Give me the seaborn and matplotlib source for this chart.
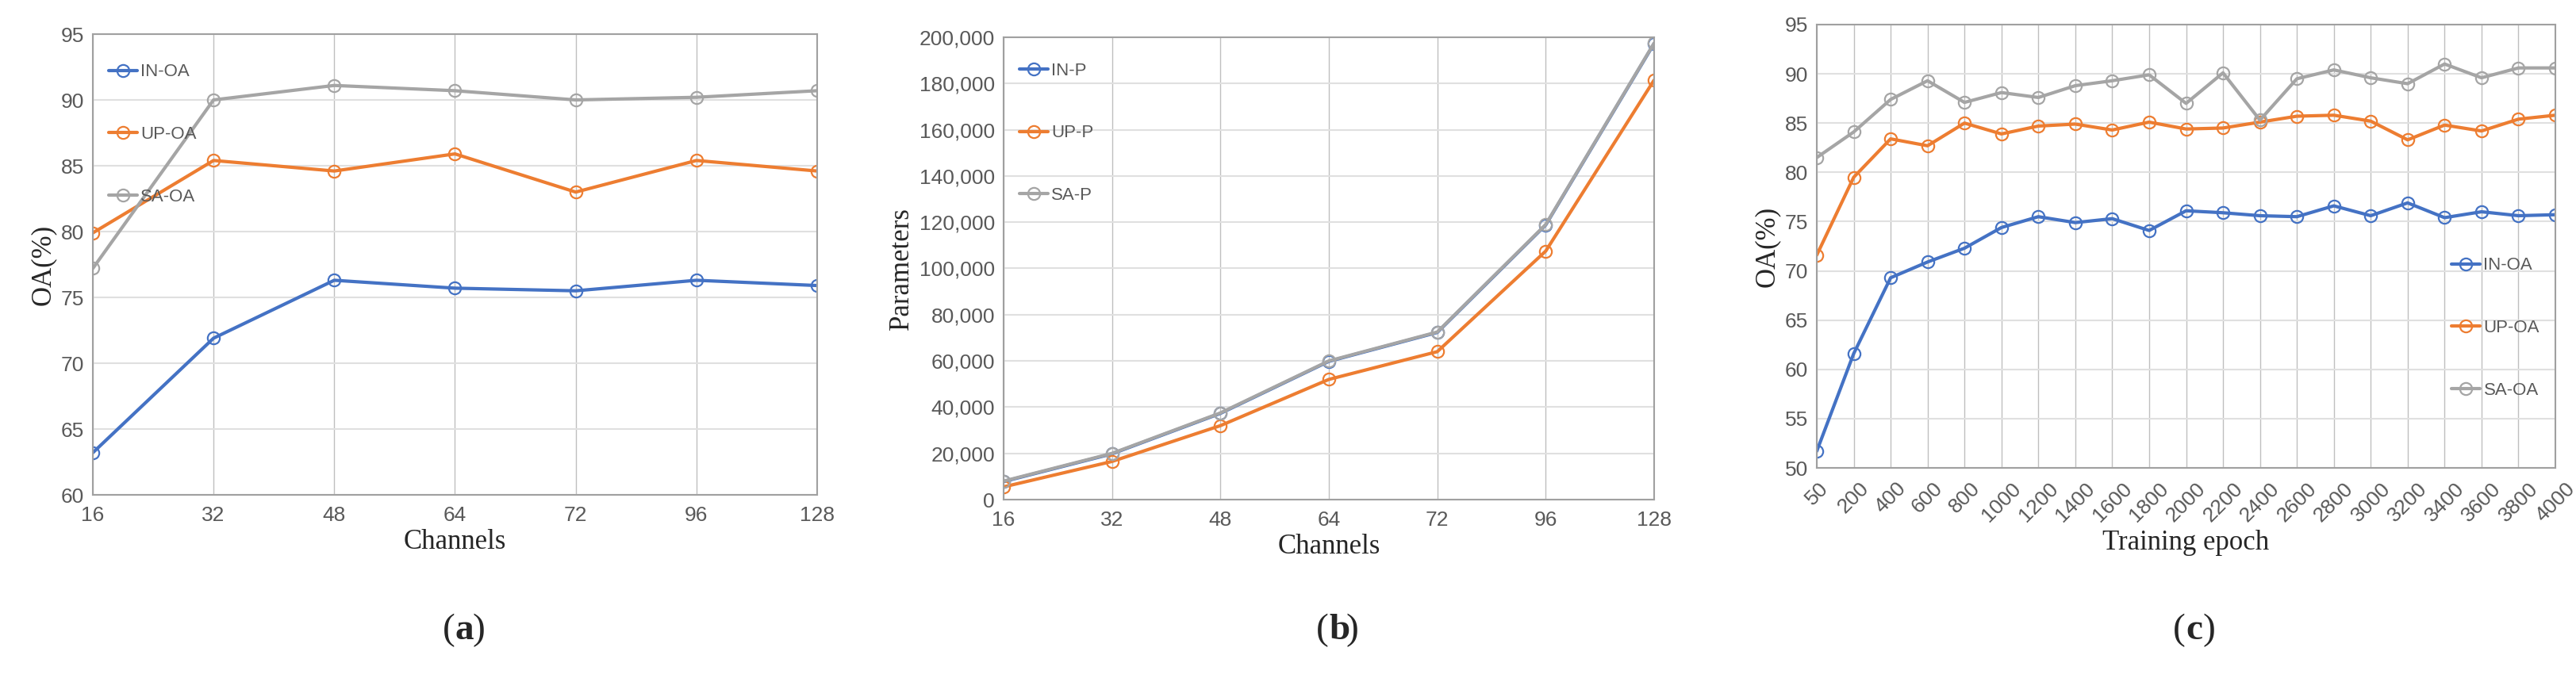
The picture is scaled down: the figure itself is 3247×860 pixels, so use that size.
import pandas as pd
import matplotlib
matplotlib.use('Agg')
import matplotlib.pyplot as plt
import seaborn as sns

sns.set_style("whitegrid")
plt.rcParams['font.family'] = ['Liberation Sans', 'DejaVu Sans']

# dados
channels = ['16', '32', '48', '64', '72', '96', '128']
in_oa = [63.2, 71.9, 76.3, 75.7, 75.5, 76.3, 75.9]
up_oa = [79.9, 85.4, 84.6, 85.9, 83.0, 85.4, 84.6]
sa_oa = [77.2, 90.0, 91.1, 90.7, 90.0, 90.2, 90.7]

in_p = [7800, 19800, 37300, 59800, 72300, 118800, 197300]
up_p = [5500, 16500, 32000, 52000, 64000, 107500, 181500]
sa_p = [8000, 20000, 37500, 60000, 72500, 119000, 197500]

epochs = ['50', '200', '400', '600', '800', '1000', '1200', '1400', '1600', '1800', '2000',
          '2200', '2400', '2600', '2800', '3000', '3200', '3400', '3600', '3800', '4000']
in_ep = [51.7, 61.6, 69.3, 70.9, 72.3, 74.4, 75.5, 74.9, 75.3, 74.1, 76.1,
         75.9, 75.6, 75.5, 76.6, 75.6, 76.9, 75.4, 76.0, 75.6, 75.7]
up_ep = [71.6, 79.5, 83.4, 82.7, 85.0, 83.9, 84.7, 84.9, 84.3, 85.1, 84.4,
         84.5, 85.1, 85.7, 85.8, 85.2, 83.3, 84.8, 84.2, 85.4, 85.8]
sa_ep = [81.5, 84.1, 87.4, 89.3, 87.1, 88.1, 87.6, 88.8, 89.3, 89.9, 87.0,
         90.1, 85.3, 89.5, 90.4, 89.6, 89.0, 91.0, 89.6, 90.6, 90.6]

colors = ['#4472C4', '#ED7D31', '#A5A5A5']
W, H = 3248, 860
fig = plt.figure(figsize=(W / 100, H / 100), dpi=100)

def rect(x0, x1, y0, y1):
    return [x0 / W, 1 - y1 / H, (x1 - x0) / W, (y1 - y0) / H]

def draw(ax, xs, series, names, ylim, yticks, xlabel, ylabel, rot=0, fmt=None,
         legloc='upper left', anchor=None):
    df = pd.DataFrame({'x': list(range(len(xs))) * len(series),
                       'v': sum(series, []),
                       's': sum([[n] * len(xs) for n in names], [])})
    sns.lineplot(data=df, x='x', y='v', hue='s', palette=colors, marker='o',
                 markerfacecolor='none', markeredgewidth=1.6, markersize=11,
                 linewidth=3, ax=ax)
    for l in ax.lines:
        l.set_markeredgecolor(l.get_color())
    ax.set_xlim(0, len(xs) - 1)
    ax.set_ylim(*ylim)
    ax.set_yticks(yticks)
    if fmt:
        ax.set_yticklabels([fmt.format(t) for t in yticks])
    ax.set_xticks(range(len(xs)))
    ax.set_xticklabels(xs, rotation=rot)
    ax.tick_params(labelsize=19, colors='#595959', length=0)
    ax.tick_params(axis='x', pad=10)
    ax.tick_params(axis='y', pad=8)
    ax.grid(True, color='#BFBFBF', linewidth=1)
    ax.grid(True, axis='y', color='#E0E0E0', linewidth=1.5)
    for s in ax.spines.values():
        s.set_color('#A0A0A0')
        s.set_linewidth(1.5)
    ax.set_xlabel(xlabel, family='Liberation Serif', fontsize=25, labelpad=4)
    ax.set_ylabel(ylabel, family='Liberation Serif', fontsize=25, labelpad=4)
    leg = ax.legend(title=None, frameon=False, fontsize=16, labelspacing=2.6,
                    handlelength=1.6, handletextpad=0.2, loc=legloc, bbox_to_anchor=anchor)
    for t in leg.get_texts():
        t.set_color('#595959')
    for h in leg.get_lines():
        h.set_markerfacecolor('none')

ax1 = fig.add_axes(rect(117, 1030, 43, 624))
draw(ax1, channels, [in_oa, up_oa, sa_oa], ['IN-OA', 'UP-OA', 'SA-OA'],
     (60, 95), range(60, 96, 5), 'Channels', 'OA(%)', anchor=(0.0, 0.97))

ax2 = fig.add_axes(rect(1265, 2085, 47, 630))
draw(ax2, channels, [in_p, up_p, sa_p], ['IN-P', 'UP-P', 'SA-P'],
     (0, 200000), range(0, 200001, 20000), 'Channels', 'Parameters',
     fmt='{:,}', anchor=(0.0, 0.98))

ax3 = fig.add_axes(rect(2290, 3221, 31, 590))
draw(ax3, epochs, [in_ep, up_ep, sa_ep], ['IN-OA', 'UP-OA', 'SA-OA'],
     (50, 95), range(50, 96, 5), 'Training epoch', 'OA(%)', rot=45,
     legloc='lower right', anchor=(1.0, 0.12))

for x, lab in [(574, 'a'), (1675, 'b'), (2755, 'c')]:
    fig.text(x / W, 1 - 795 / H, '(', family='Liberation Serif', fontsize=34, ha='right', va='center')
    fig.text(x / W, 1 - 795 / H, lab, family='Liberation Serif', fontsize=34,
             weight='bold', ha='left', va='center')
    fig.text(x / W + 0.0065, 1 - 795 / H, ')', family='Liberation Serif', fontsize=34, ha='left', va='center')

fig.savefig('out.png', dpi=100, facecolor='white')
